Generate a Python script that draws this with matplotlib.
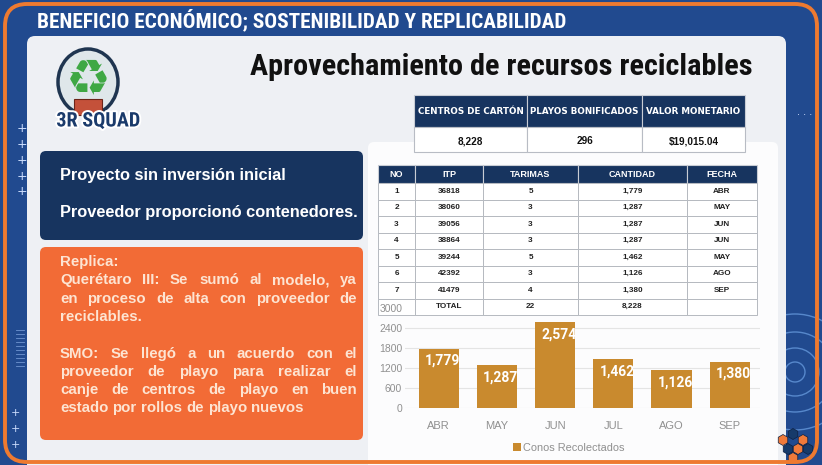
import matplotlib
matplotlib.use('Agg')
import matplotlib.pyplot as plt
from matplotlib.patches import FancyBboxPatch, Rectangle, Circle, Ellipse, RegularPolygon
import matplotlib.patheffects as pe

# ---------------- data ----------------
months = ['ABR', 'MAY', 'JUN', 'JUL', 'AGO', 'SEP']
conos = [1779, 1287, 2574, 1462, 1126, 1380]
y_ticks = [0, 600, 1200, 1800, 2400, 3000]
legend_label = 'Conos Recolectados'

summary_headers = ['CENTROS DE CARTÓN', 'PLAYOS BONIFICADOS', 'VALOR MONETARIO']
summary_values = ['8,228', '296', '$19,015.04']

table_headers = ['NO', 'ITP', 'TARIMAS', 'CANTIDAD', 'FECHA']
table_no = ['1', '2', '3', '4', '5', '6', '7', '']
table_itp = ['36818', '38060', '39056', '38864', '39244', '42392', '41479', 'TOTAL']
table_tarimas = ['5', '3', '3', '3', '5', '3', '4', '22']
table_cantidad = ['1,779', '1,287', '1,287', '1,287', '1,462', '1,126', '1,380', '8,228']
table_fecha = ['ABR', 'MAY', 'JUN', 'JUN', 'MAY', 'AGO', 'SEP', '']

header_text = 'BENEFICIO ECONÓMICO; SOSTENIBILIDAD Y REPLICABILIDAD'
title_text = 'Aprovechamiento de recursos reciclables'
navy_lines = ['Proyecto sin inversión inicial', 'Proveedor proporcionó contenedores.']
orange_lines = ['Replica:',
                'Querétaro III: Se sumó al modelo, ya',
                'en proceso de alta con proveedor de',
                'reciclables.',
                '',
                'SMO: Se llegó a un acuerdo con el',
                'proveedor de playo para realizar el',
                'canje de centros de playo en buen',
                'estado por rollos de playo nuevos']
orange_justify = [False, True, True, False, False, True, True, True, False]

# ---------------- colours ----------------
BG = '#214a8f'
ORANGE_BORDER = '#ee7a30'
PANEL = '#eef0f4'
NAVY = '#17345f'
ORANGE_BOX = '#f26b36'
BAR = '#c98a2e'
CREAM = '#fde4d2'
NARROW = ['Liberation Sans Narrow', 'Roboto Condensed', 'Open Sans Condensed',
          'DejaVu Sans Condensed', 'Roboto', 'DejaVu Sans']
BODY = 'Liberation Sans'

W, H = 822, 465
fig = plt.figure(figsize=(W / 100, H / 100), dpi=100)
fig.patch.set_facecolor(BG)
bg = fig.add_axes([0, 0, 1, 1])
bg.set_xlim(0, W)
bg.set_ylim(H, 0)
bg.axis('off')
R = fig.canvas.get_renderer()

def rbox(x, y, w, h, fc, r=6, ec='none', lw=0, z=1, fill=True):
    p = FancyBboxPatch((x, y), w, h, boxstyle=f'round,pad=0,rounding_size={r}',
                       fc=fc, ec=ec, lw=lw, zorder=z, fill=fill)
    bg.add_patch(p)
    return p

def text_width(s, size, **kw):
    t = bg.text(0, 0, s, fontsize=size, **kw)
    w = t.get_window_extent(R).width
    t.remove()
    return w

def fit_size(s, width, size0=12, **kw):
    return size0 * width / text_width(s, size0, **kw)

def fit_text(x, y, s, width, size0=12, **kw):
    return bg.text(x, y, s, fontsize=fit_size(s, width, size0, **kw), **kw)

# ---------------- decorations ----------------
rbox(5, 4, 812, 458, 'none', r=22, ec=ORANGE_BORDER, lw=2.8, z=5, fill=False)
for yy in [128, 144, 160, 176, 191]:
    bg.text(22, yy, '+', color='#cfe0ff', fontsize=9, ha='center', va='center', zorder=2)
for yy in [413, 429, 445]:
    bg.text(15, yy, '+', color='#cfe0ff', fontsize=8, ha='center', va='center', zorder=2)
for yy in range(330, 368, 4):
    bg.plot([16, 24], [yy, yy], color='#6f95d0', lw=0.6, zorder=2)
bg.text(805, 112, '. . .', color='#cfe0ff', fontsize=7, ha='center', va='center', zorder=2)
for rr in [10, 24, 40, 58]:
    bg.add_patch(Circle((795, 372), rr, fill=False, ec='#6ea3e6', lw=1.0, alpha=0.7, zorder=0.5))
for (hx, hy, c) in [(783, 440, '#f07a3a'), (793, 434, '#163a6a'), (803, 440, '#f07a3a'),
                    (788, 449, '#163a6a'), (798, 449, '#f07a3a'), (808, 449, '#163a6a'),
                    (793, 458, '#f07a3a')]:
    bg.add_patch(RegularPolygon((hx, hy), 6, radius=5.5, fc=c, ec='#0e2040', lw=0.5, zorder=2))

# header
fit_text(37, 20, header_text, 526, color='white', fontweight='bold',
         family=NARROW, va='center', ha='left', zorder=3)

# main panel
rbox(27, 36, 759, 440, PANEL, r=8, z=1)
# white card behind tables/chart
rbox(368, 142, 410, 330, '#fcfcfd', r=6, z=1.2)

# title
fit_text(250, 67, title_text, 505, color='#111111', fontweight='bold',
         family=NARROW, va='center', ha='left', zorder=3)

# logo
bg.add_patch(Ellipse((88, 82), 60, 66, fc='#dfe7ea', ec='#1f3550', lw=2.5, zorder=3))
bg.text(88, 80, '♻', color='#3fa844', fontsize=36, fontweight='bold', ha='center',
        va='center', family='DejaVu Sans', zorder=4)
bg.add_patch(Rectangle((74, 99), 28, 16, fc='#c4513a', ec='#6b2418', lw=0.8, zorder=4))
bg.text(98, 121, '3R SQUAD', color='#1b3b6b', fontsize=14.5, fontweight='bold',
        family=NARROW, ha='center', va='center', zorder=5,
        path_effects=[pe.withStroke(linewidth=2.8, foreground='white')])

# navy box
rbox(40, 151, 323, 89, NAVY, r=6, z=2)
navy_size = fit_size(navy_lines[1], 297, family=BODY, fontweight='bold')
for i, s in enumerate(navy_lines):
    bg.text(60, 175 + i * 37, s, color='white', fontsize=navy_size, fontweight='bold',
            family=BODY, ha='left', va='center', zorder=3)

# orange box
rbox(40, 247, 323, 193, ORANGE_BOX, r=6, z=2)

def justified(lines, flags, x0, x1, ytop, dy, **kw):
    space = text_width('a a', **kw) - text_width('aa', **kw)
    for i, (line, jf) in enumerate(zip(lines, flags)):
        if not line:
            continue
        y = ytop + i * dy
        words = line.split(' ')
        arts = [bg.text(0, y, w, ha='left', va='center', **kw) for w in words]
        widths = [a.get_window_extent(R).width for a in arts]
        gap = (x1 - x0 - sum(widths)) / (len(words) - 1) if (jf and len(words) > 1) else space
        x = x0
        for a, w in zip(arts, widths):
            a.set_x(x)
            x += w + gap

orange_size = fit_size(orange_lines[-1], 242, family=BODY, fontweight='bold')
justified(orange_lines, orange_justify, 60, 357, 262, 18.3,
          color=CREAM, size=orange_size, fontweight='bold', family=BODY, zorder=3)

# ---------------- summary table ----------------
sx = [414, 527, 642, 745]
for j, (hd, val) in enumerate(zip(summary_headers, summary_values)):
    x0, x1 = sx[j], sx[j + 1]
    bg.add_patch(Rectangle((x0, 95), x1 - x0, 32, fc=NAVY, ec='#c8ccd4', lw=0.8, zorder=3))
    bg.add_patch(Rectangle((x0, 127), x1 - x0, 25, fc='white', ec='#b8bcc4', lw=0.8, zorder=3))
    bg.text((x0 + x1) / 2, 111, hd, color='white', fontsize=6.3, fontweight='bold',
            family='DejaVu Sans', ha='center', va='center', zorder=4)
    bg.text((x0 + x1) / 2, 141, val, color='#111111', fontsize=7.2, fontweight='bold',
            family=BODY, ha='center', va='center', zorder=4)

# ---------------- data table ----------------
cx = [378, 415, 483, 578, 687, 757]
ty0, th_h, rh = 165, 18, 16.5
cols = [table_no, table_itp, table_tarimas, table_cantidad, table_fecha]
for j, hd in enumerate(table_headers):
    x0, x1 = cx[j], cx[j + 1]
    bg.add_patch(Rectangle((x0, ty0), x1 - x0, th_h, fc=NAVY, ec='#c8ccd4', lw=0.8, zorder=3))
    bg.text((x0 + x1) / 2, ty0 + th_h / 2, hd, color='white', fontsize=6.5, fontweight='bold',
            family=BODY, ha='center', va='center', zorder=4)
    for i, v in enumerate(cols[j]):
        y0 = ty0 + th_h + i * rh
        bg.add_patch(Rectangle((x0, y0), x1 - x0, rh, fc='white', ec='#b5b9c0', lw=0.7, zorder=3))
        bg.text((x0 + x1) / 2, y0 + rh / 2, v, color='#222222', fontsize=5.9, fontweight='bold',
                family=BODY, ha='center', va='center', zorder=4)

# ---------------- bar chart ----------------
ax = fig.add_axes([405 / W, 57 / H, 355 / W, 100 / H], zorder=5)
ax.patch.set_alpha(0)
x = list(range(len(months)))
bars = ax.bar(x, conos, width=0.69, color=BAR, zorder=3, label=legend_label)
ax.set_xlim(-0.58, 5.52)
ax.set_ylim(0, 3000)
ax.set_yticks(y_ticks)
ax.set_yticklabels([str(t) for t in y_ticks])
ax.set_xticks(x)
ax.set_xticklabels(months)
ax.tick_params(axis='both', length=0, colors='#909090')
ax.tick_params(axis='y', pad=2, labelsize=7.5)
ax.tick_params(axis='x', pad=9, labelsize=8)
for lab in ax.get_xticklabels() + ax.get_yticklabels():
    lab.set_family(BODY)
ax.yaxis.grid(True, color='#e4e4e4', lw=0.8, zorder=0)
ax.yaxis.get_gridlines()[-1].set_visible(False)
for s in ax.spines.values():
    s.set_visible(False)
for b, v in zip(bars, conos):
    t = ax.annotate(f'{v:,}', (b.get_x() + b.get_width() / 2, v), xytext=(4, -12),
                    textcoords='offset pixels', ha='center', va='center', color='white',
                    fontsize=10, fontweight='bold', family='Roboto', zorder=4)
    t.set_clip_path(b)
leg = ax.legend(loc='center', bbox_to_anchor=(0.462, -0.40), frameon=False,
                handlelength=0.75, handleheight=0.75, handletextpad=0.2,
                prop={'family': BODY, 'size': 7.9})
for txt in leg.get_texts():
    txt.set_color('#909090')

fig.savefig('out.png', dpi=100, facecolor=BG)
